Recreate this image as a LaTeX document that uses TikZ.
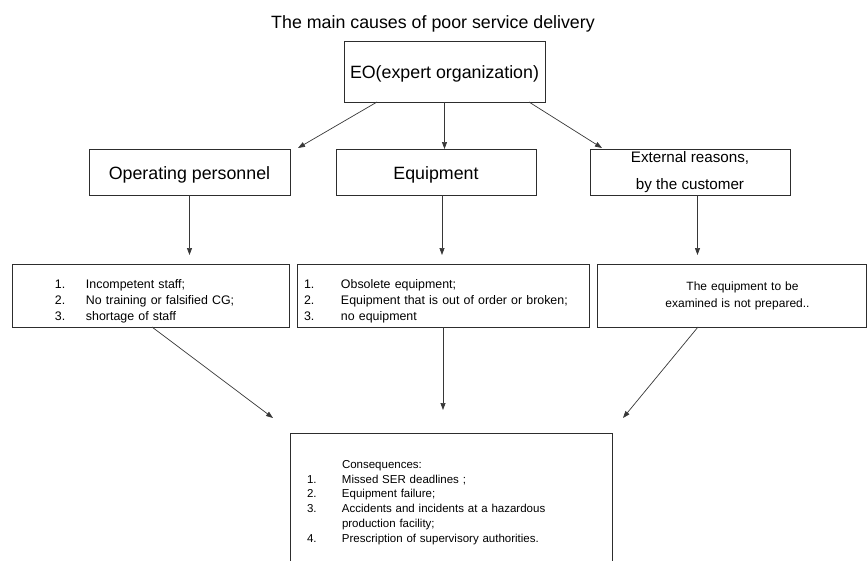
\documentclass[tikz,border=0pt]{standalone}
\usepackage{fontspec}
\setmainfont{Liberation Sans}
\usepackage{xcolor}
\definecolor{boxgray}{RGB}{45,45,45}
\definecolor{arrgray}{RGB}{55,55,55}
\usetikzlibrary{arrows.meta}

% numbered entry: fixed-width slot for the number
\newcommand{\numslot}[2]{\makebox[#1][l]{#2}}

\begin{document}
\begin{tikzpicture}[x=1pt, y=-1pt, >={Triangle[length=7pt, width=5pt]},
    box/.style={draw=boxgray, line width=0.8pt, inner sep=0pt, outer sep=0pt},
    arr/.style={->, draw=arrgray, line width=0.7pt},
    bigtext/.style={font=\fontsize{17.8}{20}\selectfont, text height=14.5pt, text depth=0pt},
    listtext/.style={font=\fontsize{12.4}{16}\selectfont,
                     execute at begin node={\rule{0pt}{21pt}}}]

\useasboundingbox (0,0) rectangle (867,560);
\clip (0,0) rectangle (867,560);

% === Title ===
\node[bigtext] (title) at (433,21) {The main causes of poor service delivery};

% === Expert organization ===
\node[box, bigtext, minimum width=201pt, minimum height=61pt] (eo) at (444.5,71.5)
    {EO(expert organization)};

% === Groups of causes ===
\node[box, bigtext, minimum width=201pt, minimum height=46pt] (oper) at (189.5,172)
    {Operating personnel};
\node[box, bigtext, minimum width=200pt, minimum height=46pt] (equip) at (436,172)
    {Equipment};
\node[box, font=\fontsize{15.2}{27}\selectfont, align=center,
      minimum width=200pt, minimum height=46pt] (extern) at (690,172)
    {External reasons,\\by the customer};

% === Single causes ===
\node[box, listtext, text width=277pt, align=left, minimum height=63pt] (staff) at (150.5,295.5)
    {\hspace*{43pt}\numslot{31pt}{1.}Incompetent staff;\\
     \hspace*{43pt}\numslot{31pt}{2.}No training or falsified CG;\\
     \hspace*{43pt}\numslot{31pt}{3.}shortage of staff};
\node[box, listtext, text width=292pt, align=left, minimum height=63pt] (kit) at (443,295.5)
    {\hspace*{7pt}\numslot{37pt}{1.}Obsolete equipment;\\
     \hspace*{7pt}\numslot{37pt}{2.}Equipment that is out of order or broken;\\
     \hspace*{7pt}\numslot{37pt}{3.}no equipment};
\node[box, font=\fontsize{12}{17}\selectfont, text width=269pt, align=center,
      minimum height=63pt] (ready) at (731.5,295.5)
    {\hspace*{22pt}The equipment to be\\
     \hspace*{12pt}examined is not prepared..};

% === Consequences (box runs off the bottom) ===
\node[box, font=\fontsize{11.5}{14.8}\selectfont, text width=322pt, align=left,
      minimum height=139pt] (cons) at (451,502.5)
    {\hspace*{52pt}Consequences:\\
     \hspace*{17pt}\numslot{35pt}{1.}Missed SER deadlines ;\\
     \hspace*{17pt}\numslot{35pt}{2.}Equipment failure;\\
     \hspace*{17pt}\numslot{35pt}{3.}Accidents and incidents at a hazardous\\
     \hspace*{52pt}production facility;\\
     \hspace*{17pt}\numslot{35pt}{4.}Prescription of supervisory authorities.};

% === Arrows EO -> groups ===
\draw[arr] ([xshift=33pt]eo.south west) -- ([xshift=8pt, yshift=1pt]oper.north east);
\draw[arr] (eo.south) -- (eo.south |- equip.north);
\draw[arr] ([xshift=-16pt]eo.south east) -- ([xshift=12pt, yshift=1pt]extern.north west);

% === Arrows groups -> single causes ===
\draw[arr] (oper.south) -- ([yshift=9pt]oper.south |- staff.north);
\draw[arr] ([xshift=6pt]equip.south) -- ([xshift=6pt, yshift=9pt]equip.south |- kit.north);
\draw[arr] ([xshift=7.5pt]extern.south) -- ([xshift=7.5pt, yshift=9pt]extern.south |- ready.north);

% === Arrows single causes -> consequences ===
\draw[arr] ([xshift=1.5pt]staff.south) -- ([xshift=-17pt, yshift=15pt]cons.north west);
\draw[arr] (kit.south) -- ([yshift=23pt]kit.south |- cons.north);
\draw[arr] ([xshift=-33.5pt]ready.south) -- ([xshift=11pt, yshift=15pt]cons.north east);

\end{tikzpicture}
\end{document}
